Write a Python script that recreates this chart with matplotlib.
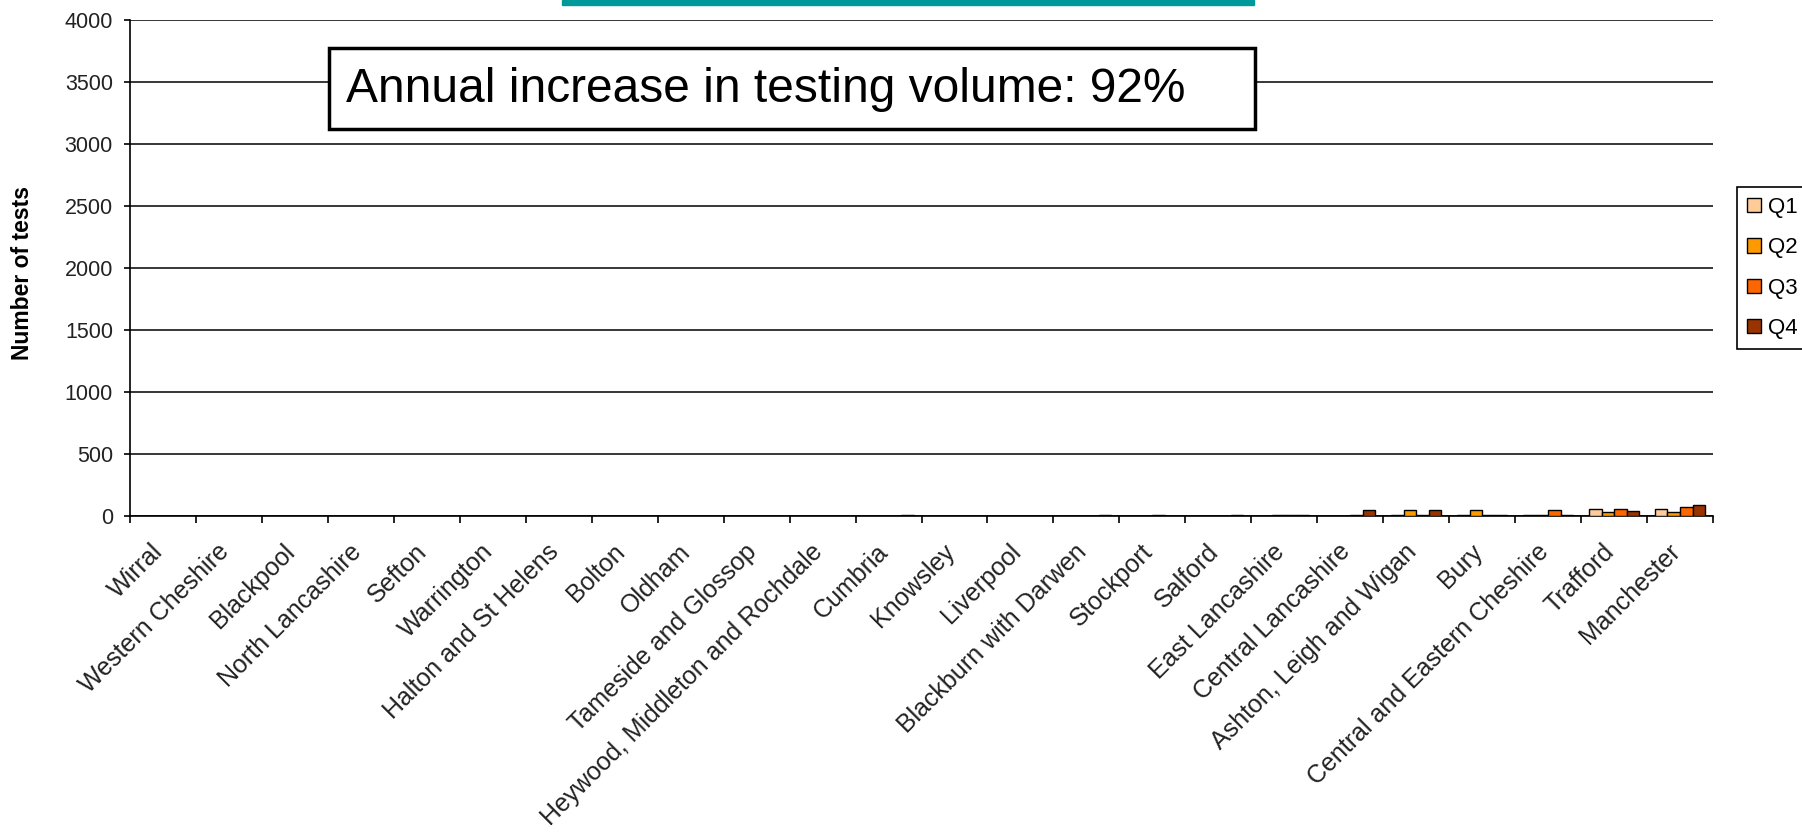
import matplotlib
matplotlib.use("Agg")
from matplotlib import pyplot as plt
from matplotlib.patches import Rectangle
import matplotlib.transforms as mtransforms
import numpy as np

plt.rcParams['font.family'] = ['Liberation Sans', 'DejaVu Sans']

# data
regions = ["Wirral", "Western Cheshire", "Blackpool", "North Lancashire", "Sefton",
           "Warrington", "Halton and St Helens", "Bolton", "Oldham",
           "Tameside and Glossop", "Heywood, Middleton and Rochdale", "Cumbria",
           "Knowsley", "Liverpool", "Blackburn with Darwen", "Stockport", "Salford",
           "East Lancashire", "Central Lancashire", "Ashton, Leigh and Wigan", "Bury",
           "Central and Eastern Cheshire", "Trafford", "Manchester"]
q1 = [0, 0, 0, 0, 0, 0, 0, 0, 0, 0, 0, 0, 0, 0, 0, 0, 0, 0, 0, 10, 10, 10, 60, 60]
q2 = [0, 0, 0, 0, 0, 0, 0, 0, 0, 0, 0, 0, 0, 0, 0, 0, 0, 10, 0, 45, 45, 10, 35, 35]
q3 = [0, 0, 0, 0, 0, 0, 0, 0, 0, 0, 0, 0, 0, 0, 0, 12, 0, 10, 10, 5, 10, 45, 57, 75]
q4 = [0, 0, 0, 0, 0, 0, 0, 0, 0, 0, 0, 12, 0, 0, 12, 0, 12, 10, 45, 45, 10, 10, 40, 92]
quarters = ["Q1", "Q2", "Q3", "Q4"]
colours = ["#FFCC99", "#FF9900", "#FF6600", "#993300"]
y_ticks = [0, 500, 1000, 1500, 2000, 2500, 3000, 3500, 4000]
note = "Annual increase in testing volume: 92%"

W, H = 1802, 835
fig = plt.figure(figsize=(W / 100, H / 100), dpi=100)
ax = fig.add_axes([130 / W, 1 - 516 / H, (1713 - 130) / W, (516 - 20) / H])

x = np.arange(len(regions))
bar_w = 0.19
for i, (vals, c, q) in enumerate(zip([q1, q2, q3, q4], colours, quarters)):
    ax.bar(x + (i - 1.5) * bar_w, vals, bar_w, color=c, edgecolor='black',
           linewidth=1, label=q, zorder=3)

ax.set_xlim(-0.5, len(regions) - 0.5)
ax.set_ylim(0, 4000)
ax.set_yticks(y_ticks)
ax.yaxis.grid(True, color='black', linewidth=1.1)
ax.set_axisbelow(True)
ax.spines['top'].set_visible(False)
ax.spines['right'].set_visible(False)
ax.spines['left'].set_linewidth(1.2)
ax.spines['bottom'].set_linewidth(1.2)
ax.tick_params(axis='y', length=4.3, width=1.2, pad=8, labelsize=15.5, labelcolor='#222222')

# ticks between categories, labels at the centres
ax.set_xticks(np.arange(len(regions) + 1) - 0.5)
ax.set_xticklabels([])
ax.tick_params(axis='x', which='major', length=5, width=1.2)
ax.set_xticks(x, minor=True)
ax.set_xticklabels(regions, minor=True, rotation=45, ha='right', va='top',
                   rotation_mode='anchor', fontsize=18, color='#222222')
ax.tick_params(axis='x', which='minor', length=0, pad=17)
shift = mtransforms.ScaledTranslation(-12 / 100, 0, fig.dpi_scale_trans)
for lab in ax.get_xticklabels(minor=True):
    lab.set_transform(lab.get_transform() + shift)

leg = ax.legend(loc='upper left', bbox_to_anchor=(1737 / W, 1 - 187 / H),
                bbox_transform=fig.transFigure, fancybox=False, edgecolor='black',
                framealpha=1, fontsize=16, handlelength=0.63, handleheight=0.63,
                handletextpad=0.32, labelspacing=0.87, borderpad=0.45, borderaxespad=0)
leg.get_frame().set_linewidth(1.2)

fig.text(23 / W, 1 - 273 / H, "Number of tests", rotation=90, fontsize=16.5,
         fontweight='bold', ha='center', va='center')

# title underline and annotation box
fig.patches.append(Rectangle((562 / W, 1 - 5 / H), (1254 - 562) / W, 5 / H,
                             transform=fig.transFigure, color='#009999'))
fig.patches.append(Rectangle((329 / W, 1 - 129 / H), (1255 - 329) / W, (129 - 48) / H,
                             transform=fig.transFigure, facecolor='white',
                             edgecolor='black', linewidth=2.5, zorder=5))
fig.text(346 / W, 1 - 89 / H, note, fontsize=34.5, ha='left', va='center', zorder=6)

fig.savefig("out.png", dpi=100)
